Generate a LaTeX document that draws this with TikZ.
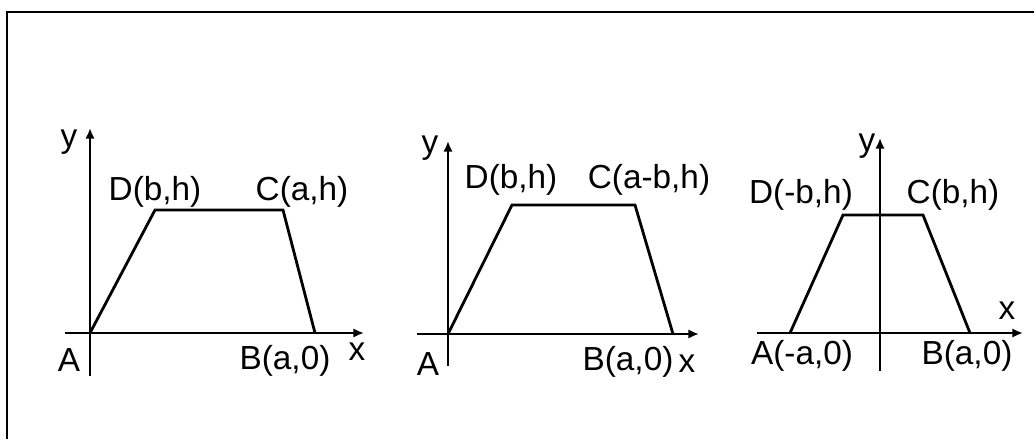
\documentclass[tikz,border=0pt]{standalone}
\usepackage{fontspec}
\setmainfont{Liberation Sans}
\usetikzlibrary{arrows.meta}

\begin{document}
\begin{tikzpicture}[x=0.75pt,y=-0.75pt,line width=2.1pt,
  lbl/.style={inner sep=0pt,font=\fontsize{25}{30}\selectfont},
  axis/.style={line width=2pt,-{Latex[length=8pt,width=7pt]}}]

\useasboundingbox (0,0) rectangle (1034,439);

% frame, only top and left edges show
\coordinate (frameBL) at (7,439);
\coordinate (frameTL) at (7,12);
\coordinate (frameTR) at (1034,12);
\draw[line width=1.5pt] (frameBL)--(frameTL)--(frameTR);

% first trapezoid
\coordinate (A1) at (90,333);
\coordinate (D1) at (155,210);
\coordinate (C1) at (283,210);
\coordinate (B1) at (315,333);
\coordinate (xs1) at (65,333);
\coordinate (xe1) at (364,333);
\coordinate (ys1) at (90,376);
\coordinate (ye1) at (90,128);
\draw[axis] (xs1)--(xe1);
\draw[axis] (ys1)--(ye1);
\draw (A1)--(D1)--(C1)--(B1);
\node[lbl] (ylab1) at (69,142) {y};
\node[lbl] (xlab1) at (357,352) {x};
\node[lbl] (Alab1) at (69,360) {A};
\node[lbl] (Blab1) at (285,361) {B(a,0)};
\node[lbl] (Dlab1) at (155,192) {D(b,h)};
\node[lbl] (Clab1) at (302,192) {C(a,h)};

% second trapezoid
\coordinate (A2) at (448,334);
\coordinate (D2) at (512,205);
\coordinate (C2) at (635,205);
\coordinate (B2) at (673,334);
\coordinate (xs2) at (417,334);
\coordinate (xe2) at (699,334);
\coordinate (ys2) at (448,366);
\coordinate (ye2) at (448,141);
\draw[axis] (xs2)--(xe2);
\draw[axis] (ys2)--(ye2);
\draw (A2)--(D2)--(C2)--(B2);
\node[lbl] (ylab2) at (430,148) {y};
\node[lbl] (xlab2) at (687,364) {x};
\node[lbl] (Alab2) at (428,364) {A};
\node[lbl] (Blab2) at (628,362) {B(a,0)};
\node[lbl] (Dlab2) at (511,180) {D(b,h)};
\node[lbl] (Clab2) at (649,180) {C(a-b,h)};

% third trapezoid, symmetric
\coordinate (A3) at (790,333);
\coordinate (D3) at (843,215);
\coordinate (C3) at (923,215);
\coordinate (B3) at (970,333);
\coordinate (xs3) at (757,333);
\coordinate (xe3) at (1023,333);
\coordinate (ys3) at (880,371);
\coordinate (ye3) at (880,138);
\draw[axis] (xs3)--(xe3);
\draw[axis] (ys3)--(ye3);
\draw (A3)--(D3)--(C3)--(B3);
\node[lbl] (ylab3) at (867,146) {y};
\node[lbl] (xlab3) at (1007,311) {x};
\node[lbl] (Alab3) at (802,356) {A(-a,0)};
\node[lbl] (Blab3) at (967,356) {B(a,0)};
\node[lbl] (Dlab3) at (801,195) {D(-b,h)};
\node[lbl] (Clab3) at (953,195) {C(b,h)};

\end{tikzpicture}
\end{document}
